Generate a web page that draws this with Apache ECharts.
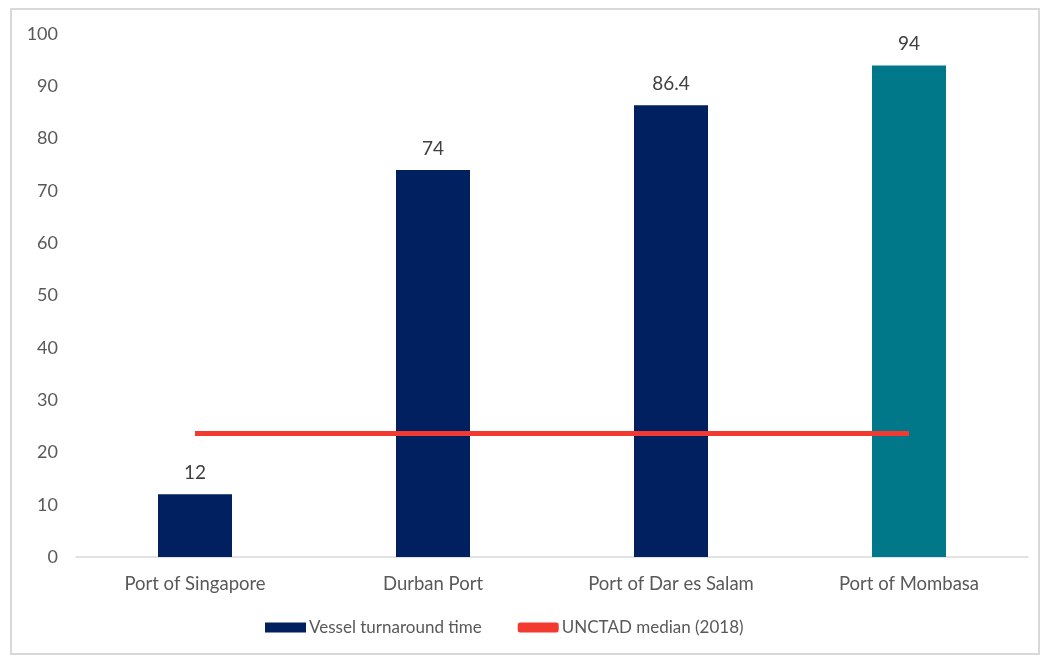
<!DOCTYPE html>
<html>
<head>
<meta charset="utf-8">
<script src="https://cdn.jsdelivr.net/npm/echarts@6/dist/echarts.min.js"></script>
<style>
  html, body { margin: 0; padding: 0; background: #fff; }
  #chart { position: absolute; left: 10px; top: 8px; width: 1030px; height: 647px; border: 2px solid #d9d9d9; box-sizing: border-box; }
</style>
</head>
<body>
<div id="chart"></div>
<script>
  const ports = ['Port of Singapore', 'Durban Port', 'Port of Dar es Salam', 'Port of Mombasa']
  const turnaround = [12, 74, 86.4, 94]
  const unctadMedian = [23.6, 23.6, 23.6, 23.6]
  const yTicks = [0, 10, 20, 30, 40, 50, 60, 70, 80, 90, 100]

  const barColors = ['#002060', '#002060', '#002060', '#00788A']
  const font = 'Lato, "Open Sans", sans-serif'

  const myChart = echarts.init(document.getElementById('chart'))
  myChart.setOption({
    textStyle: { fontFamily: font },
    grid: { left: 64, right: 10, top: 24, bottom: 96 },
    legend: {
      bottom: 12,
      left: 248,
      itemGap: 36,
      itemWidth: 41,
      itemHeight: 10,
      textStyle: { color: '#595959', fontSize: 17, fontFamily: font, padding: [0, 0, 0, -2] },
      data: [
        { name: 'Vessel turnaround time', icon: 'rect', itemStyle: { color: '#002060' } },
        { name: 'UNCTAD median (2018)', icon: 'roundRect' }
      ]
    },
    xAxis: {
      type: 'category',
      data: ports,
      axisLine: { lineStyle: { color: '#d9d9d9', width: 1.5 } },
      axisTick: { show: false },
      axisLabel: { color: '#595959', fontSize: 18.5, margin: 18 }
    },
    yAxis: {
      type: 'value',
      min: yTicks[0],
      max: yTicks[yTicks.length - 1],
      interval: 10,
      splitLine: { show: false },
      axisLine: { show: false },
      axisTick: { show: false },
      axisLabel: { color: '#595959', fontSize: 18, margin: 18 }
    },
    series: [
      {
        name: 'Vessel turnaround time',
        type: 'bar',
        barWidth: 74,
        data: turnaround.map((v, i) => ({ value: v, itemStyle: { color: barColors[i] } })),
        label: { show: true, position: 'top', distance: 12, color: '#404040', fontSize: 19 }
      },
      {
        name: 'UNCTAD median (2018)',
        type: 'line',
        data: unctadMedian,
        symbol: 'none',
        lineStyle: { color: '#F23A30', width: 5 },
        itemStyle: { color: '#F23A30' }
      }
    ]
  })
</script>
</body>
</html>
